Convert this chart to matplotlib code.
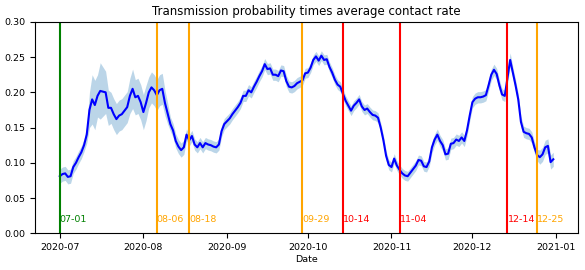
import numpy as np
import pandas as pd
import matplotlib
matplotlib.use('Agg')
import matplotlib.pyplot as plt

# daily estimate, 2020-07-01 .. 2020-12-31
start_date = '2020-07-01'
values = [
    0.081, 0.084, 0.085, 0.080, 0.081, 0.094, 0.100, 0.108, 0.115, 0.125,
    0.140, 0.175, 0.190, 0.182, 0.195, 0.202, 0.201, 0.200, 0.178, 0.178,
    0.169, 0.162, 0.167, 0.169, 0.174, 0.179, 0.195, 0.205, 0.193, 0.195,
    0.186, 0.172, 0.185, 0.200, 0.207, 0.203, 0.196, 0.203, 0.205, 0.185,
    0.170, 0.155, 0.146, 0.131, 0.123, 0.118, 0.122, 0.140, 0.132, 0.138,
    0.126, 0.122, 0.128, 0.122, 0.128, 0.126, 0.125, 0.123, 0.122, 0.126,
    0.145, 0.155, 0.159, 0.163, 0.169, 0.174, 0.179, 0.185, 0.195, 0.195,
    0.203, 0.200, 0.208, 0.215, 0.223, 0.230, 0.240, 0.233, 0.234, 0.225,
    0.225, 0.223, 0.231, 0.230, 0.216, 0.208, 0.207, 0.209, 0.213, 0.215,
    0.217, 0.227, 0.228, 0.235, 0.246, 0.251, 0.245, 0.252, 0.246, 0.247,
    0.236, 0.228, 0.218, 0.211, 0.208, 0.198, 0.188, 0.181, 0.174, 0.181,
    0.185, 0.190, 0.180, 0.175, 0.177, 0.172, 0.168, 0.167, 0.164, 0.150,
    0.132, 0.110, 0.097, 0.094, 0.106, 0.096, 0.090, 0.085, 0.082, 0.081,
    0.086, 0.091, 0.096, 0.104, 0.103, 0.095, 0.094, 0.102, 0.122, 0.133,
    0.140, 0.131, 0.125, 0.112, 0.113, 0.127, 0.128, 0.133, 0.131, 0.136,
    0.131, 0.146, 0.167, 0.186, 0.191, 0.193, 0.193, 0.194, 0.196, 0.210,
    0.225, 0.232, 0.226, 0.210, 0.197, 0.195, 0.221, 0.246, 0.228, 0.210,
    0.190, 0.158, 0.144, 0.142, 0.141, 0.136, 0.122, 0.111, 0.108, 0.112,
    0.122, 0.124, 0.101, 0.105,
]
# half width of the shaded band
spread = [
    0.010, 0.010, 0.010, 0.010, 0.010, 0.009, 0.009, 0.009, 0.009, 0.009,
    0.012, 0.025, 0.035, 0.035, 0.030, 0.040, 0.035, 0.030, 0.025, 0.022,
    0.022, 0.022, 0.022, 0.022, 0.022, 0.022, 0.025, 0.028, 0.025, 0.025,
    0.025, 0.025, 0.025, 0.022, 0.022, 0.022, 0.022, 0.022, 0.022, 0.018,
    0.015, 0.010, 0.010, 0.010, 0.010, 0.010, 0.010, 0.008, 0.008, 0.008,
    0.008, 0.008, 0.008, 0.008, 0.008, 0.008, 0.008, 0.008, 0.008, 0.008,
    0.008, 0.008, 0.008, 0.008, 0.008, 0.008, 0.008, 0.008, 0.008, 0.008,
    0.008, 0.008, 0.008, 0.008, 0.008, 0.008, 0.008, 0.008, 0.008, 0.008,
    0.008, 0.008, 0.008, 0.008, 0.008, 0.008, 0.008, 0.008, 0.008, 0.008,
    0.007, 0.007, 0.007, 0.007, 0.007, 0.007, 0.007, 0.007, 0.007, 0.007,
    0.007, 0.007, 0.007, 0.007, 0.007, 0.007, 0.007, 0.007, 0.007, 0.007,
    0.007, 0.007, 0.007, 0.007, 0.007, 0.007, 0.007, 0.007, 0.007, 0.007,
    0.007, 0.007, 0.007, 0.007, 0.007, 0.007, 0.007, 0.007, 0.007, 0.007,
    0.007, 0.007, 0.007, 0.007, 0.007, 0.007, 0.007, 0.007, 0.008, 0.008,
    0.008, 0.008, 0.008, 0.008, 0.008, 0.008, 0.008, 0.008, 0.008, 0.008,
    0.008, 0.008, 0.008, 0.008, 0.008, 0.008, 0.008, 0.008, 0.008, 0.008,
    0.008, 0.008, 0.008, 0.008, 0.008, 0.008, 0.008, 0.010, 0.008, 0.008,
    0.008, 0.008, 0.008, 0.008, 0.008, 0.008, 0.008, 0.008, 0.010, 0.010,
    0.010, 0.010, 0.010, 0.010,
]

event_dates = ['2020-07-01', '2020-08-06', '2020-08-18', '2020-09-29',
               '2020-10-14', '2020-11-04', '2020-12-14', '2020-12-25']
event_colors = ['green', 'orange', 'orange', 'orange',
                'red', 'red', 'red', 'orange']

dates = pd.date_range(start_date, periods=len(values), freq='D')
y = np.array(values)
s = np.array(spread)

fig = plt.figure(figsize=(5.85, 2.7), dpi=100)
ax = fig.add_axes([0.060, 0.136, 0.928, 0.783])

ax.fill_between(dates, y - s, y + s, color='C0', alpha=0.3, linewidth=0)
ax.plot(dates, y, color='blue', linewidth=1.5)

for d, c in zip(event_dates, event_colors):
    dt = pd.Timestamp(d)
    ax.axvline(dt, color=c, linewidth=1.5)
    ax.text(dt, 0.013, dt.strftime('%m-%d'), color=c, fontsize=6.8,
            ha='left', va='bottom')

ax.set_ylim(0, 0.30)
ax.set_yticks(np.arange(0, 0.301, 0.05))
ax.yaxis.set_major_formatter(matplotlib.ticker.FormatStrFormatter('%.2f'))
ax.tick_params(labelsize=6.8)
ax.set_xlabel('Date', fontsize=6.8, labelpad=2)
ax.set_title('Transmission probability times average contact rate', fontsize=8.45, pad=5)

fig.savefig('out.png', dpi=100)
